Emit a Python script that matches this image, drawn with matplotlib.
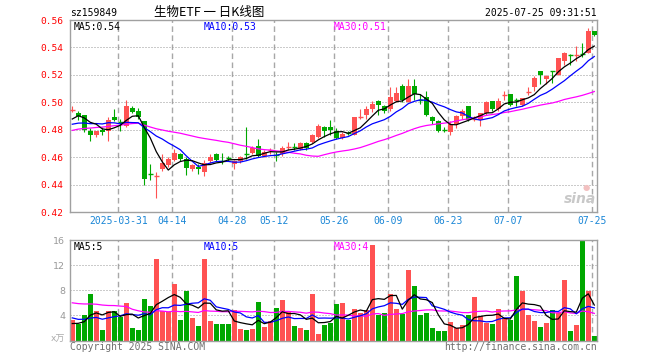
import numpy as np
import matplotlib
matplotlib.use('Agg')
import matplotlib.pyplot as plt

# ---------------- data ----------------
opens = [0.494,0.492,0.491,0.479,0.476,0.480,0.479,0.489,0.486,0.483,
         0.496,0.494,0.486,0.448,0.446,0.451,0.454,0.458,0.462,0.459,
         0.451,0.453,0.449,0.457,0.462,0.458,0.460,0.455,0.457,0.463,
         0.463,0.468,0.461,0.465,0.462,0.462,0.467,0.468,0.466,0.470,
         0.471,0.475,0.482,0.482,0.479,0.474,0.478,0.476,0.489,0.491,
         0.495,0.501,0.497,0.495,0.501,0.512,0.500,0.512,0.502,0.504,
         0.489,0.486,0.480,0.478,0.484,0.490,0.497,0.487,0.487,0.492,
         0.501,0.495,0.505,0.506,0.502,0.498,0.507,0.511,0.523,0.517,
         0.523,0.520,0.530,0.535,0.534,0.536,0.536,0.552]
highs = [0.497,0.494,0.491,0.481,0.479,0.482,0.489,0.495,0.488,0.502,
         0.497,0.496,0.486,0.455,0.449,0.462,0.460,0.466,0.463,0.460,
         0.455,0.455,0.458,0.462,0.463,0.463,0.461,0.458,0.461,0.482,
         0.468,0.473,0.465,0.467,0.464,0.468,0.471,0.470,0.471,0.471,
         0.477,0.484,0.483,0.487,0.481,0.478,0.479,0.489,0.495,0.497,
         0.501,0.502,0.498,0.511,0.511,0.513,0.517,0.517,0.506,0.508,
         0.490,0.487,0.482,0.486,0.491,0.495,0.497,0.490,0.492,0.501,
         0.501,0.503,0.508,0.506,0.503,0.503,0.511,0.519,0.523,0.520,
         0.523,0.532,0.537,0.535,0.541,0.543,0.554,0.552]
lows = [0.493,0.487,0.478,0.472,0.475,0.476,0.472,0.486,0.479,0.482,
        0.492,0.488,0.440,0.443,0.430,0.450,0.453,0.457,0.457,0.447,
        0.450,0.448,0.446,0.456,0.457,0.455,0.457,0.451,0.456,0.459,
        0.462,0.460,0.460,0.462,0.457,0.461,0.465,0.465,0.465,0.465,
        0.470,0.474,0.475,0.476,0.473,0.473,0.476,0.476,0.488,0.488,
        0.493,0.491,0.492,0.494,0.500,0.500,0.500,0.502,0.499,0.490,
        0.484,0.478,0.478,0.476,0.481,0.488,0.486,0.486,0.483,0.491,
        0.494,0.494,0.502,0.497,0.497,0.497,0.505,0.508,0.513,0.513,
        0.514,0.520,0.527,0.527,0.530,0.533,0.536,0.548]
closes = [0.495,0.490,0.480,0.476,0.479,0.478,0.487,0.487,0.485,0.497,
          0.493,0.489,0.444,0.447,0.447,0.456,0.459,0.463,0.459,0.452,
          0.454,0.451,0.456,0.460,0.458,0.457,0.459,0.457,0.460,0.462,
          0.467,0.461,0.464,0.466,0.461,0.467,0.468,0.467,0.470,0.467,
          0.476,0.483,0.479,0.480,0.474,0.477,0.477,0.489,0.490,0.495,
          0.499,0.498,0.494,0.504,0.507,0.502,0.512,0.506,0.501,0.491,
          0.486,0.479,0.479,0.484,0.490,0.494,0.487,0.488,0.492,0.500,
          0.495,0.501,0.506,0.498,0.501,0.503,0.508,0.518,0.520,0.519,
          0.522,0.532,0.536,0.534,0.535,0.535,0.552,0.549]
volumes = [3.2,2.67,4.1,7.36,4.64,1.6,4.64,4.64,3.73,5.97,
           1.97,1.6,6.56,5.44,12.96,4.69,4.53,8.96,3.2,7.84,
           3.57,2.24,12.96,3.04,2.56,2.56,2.56,4.8,1.76,1.6,
           1.76,6.13,2.13,3.04,5.17,6.4,4.64,2.24,1.97,1.6,
           7.36,0.96,2.4,2.77,5.76,5.97,3.2,4.96,4.37,4.8,
           15.2,4.0,4.37,7.36,4.96,4.27,11.2,8.64,4.0,4.37,
           1.97,1.44,1.44,2.93,1.97,2.4,4.0,6.93,3.84,2.77,
           2.56,4.96,3.47,3.31,10.29,7.89,4.0,3.09,2.13,2.77,
           4.8,4.37,9.6,1.44,2.4,15.84,7.89,0.64]
# sessions before the window (only feed the moving averages)
pre_closes = [0.462,0.465,0.468,0.466,0.470,0.472,0.471,0.474,0.476,0.478,
              0.482,0.486,0.488,0.485,0.483,0.487,0.484,0.481,0.483,0.484,
              0.482,0.479,0.481,0.478,0.481,0.478,0.488,0.492,0.486]
pre_volumes = [6.5,5.8,7.2,6.0,5.5,6.8,5.0,6.2,8.0,15.0,
               9.0,12.0,7.0,5.5,6.5,8.0,6.0,5.5,6.5,6.0,
               5.0,4.0,5.5,3.5,4.5,2.5,2.8,2.2,2.8]

tick_idx = [8, 17, 27, 34, 44, 53, 63, 73, 87]
tick_labels = ['2025-03-31', '04-14', '04-28', '05-12', '05-26',
               '06-09', '06-23', '07-07', '07-25']
price_ticks = [0.42, 0.44, 0.46, 0.48, 0.50, 0.52, 0.54, 0.56]
vol_ticks = [4, 8, 12, 16]

code = 'sz159849'
title = '生物ETF 一 日K线图'
stamp = '2025-07-25 09:31:51'

# ---------------- helpers ----------------
W, H = 660, 360
RED = '#ff5252'
GREEN = '#00a800'
GRID = '#a8a8a8'
MONO = 'DejaVu Sans Mono'


def ma(series, n, pre):
    full = np.array(list(pre) + list(series), dtype=float)
    p = len(pre)
    return np.array([full[i - n + 1:i + 1].mean() for i in range(p, len(full))])


def fx(px):
    return px / W


def fy(py):
    return 1 - py / H


n = len(closes)
x = np.arange(n)
o = np.array(opens); c = np.array(closes)
hi = np.array(highs); lo = np.array(lows)
vol = np.array(volumes)
up = c >= o
cols = [RED if u else GREEN for u in up]

fig = plt.figure(figsize=(W / 100, H / 100), dpi=100)
fig.patch.set_facecolor('white')

x0, x1 = 70, 597
ax = fig.add_axes([fx(x0), fy(212), (x1 - x0) / W, (212 - 20) / H])
axv = fig.add_axes([fx(x0), fy(340.5), (x1 - x0) / W, (340.5 - 240) / H])

xlim = (-0.38, 87.45)
for a in (ax, axv):
    a.set_xlim(*xlim)
    for s in a.spines.values():
        s.set_color('#a0a0a0')
        s.set_linewidth(1.0)
    for t in tick_idx:
        a.axvline(t - 0.333, color=GRID, lw=1.0, ls=(0, (4, 2.5)), zorder=0)

ax.set_ylim(0.42, 0.56)
axv.set_ylim(0, 16)

# horizontal dotted grids
for p in price_ticks[1:-1]:
    ax.axhline(p, color='#999999', lw=0.72, ls=(0, (1, 2)), zorder=0)
for v in vol_ticks[:-1]:
    axv.axhline(v, color='#999999', lw=0.72, ls=(0, (1, 2)), zorder=0)

# candles
ax.vlines(x, lo, hi, colors=cols, lw=0.8, zorder=3)
body = np.abs(c - o)
bw = 0.8
for i in range(n):
    if body[i] < 0.0015:
        ax.hlines((o[i] + c[i]) / 2, i - bw / 2, i + bw / 2, colors=cols[i], lw=1.0, zorder=3)
    else:
        ax.bar(i, body[i], bottom=min(o[i], c[i]), width=bw, color=cols[i],
               edgecolor='none', zorder=3)

# moving averages
ma5 = ma(closes, 5, pre_closes)
ma10 = ma(closes, 10, pre_closes)
ma30 = ma(closes, 30, pre_closes)
ax.plot(x, ma30, color='#ff00ff', lw=0.9, zorder=4)
ax.plot(x, ma10, color='#0000ff', lw=0.9, zorder=4)
ax.plot(x, ma5, color='black', lw=0.9, zorder=4)

# volume
axv.bar(x, vol, width=0.83, color=cols, edgecolor='none', zorder=2)
vma5 = ma(volumes, 5, pre_volumes)
vma10 = ma(volumes, 10, pre_volumes)
vma30 = ma(volumes, 30, pre_volumes)
axv.plot(x, vma30, color='#ff00ff', lw=0.9, zorder=4)
axv.plot(x, vma10, color='#0000ff', lw=0.9, zorder=4)
axv.plot(x, vma5, color='black', lw=0.9, zorder=4)

# ticks
ax.set_yticks(price_ticks)
ax.set_yticklabels(['%.2f' % p for p in price_ticks], color='#ff0000',
                   family=MONO, fontsize=6.8)
ax.tick_params(axis='y', length=0, pad=4.5)
ax.set_xticks([t - 0.333 for t in tick_idx])
ax.set_xticklabels(tick_labels, color='#1a86d6', family=MONO, fontsize=7)
ax.tick_params(axis='x', length=0, pad=3)

axv.set_yticks(vol_ticks)
axv.set_yticklabels([str(v) for v in vol_ticks], color='#999999', fontsize=6.8)
axv.tick_params(axis='y', length=0, pad=3.5)
axv.set_xticks([])

# texts
fig.text(fx(70), fy(13), code, family=MONO, fontsize=7, va='center', ha='left')
fig.text(fx(209), fy(12), title, family=['Noto Sans CJK SC', 'DejaVu Sans'],
         fontsize=9, va='center', ha='center')
fig.text(fx(597), fy(13), stamp, family=MONO, fontsize=7, va='center', ha='right')

fig.text(fx(74), fy(26.5), 'MA5:%.2f' % ma5[-1], family=MONO, fontsize=7,
         va='center', color='black')
fig.text(fx(204), fy(26.5), 'MA10:%.2f' % ma10[-1], family=MONO, fontsize=7,
         va='center', color='#0000ff')
fig.text(fx(334), fy(26.5), 'MA30:%.2f' % ma30[-1], family=MONO, fontsize=7,
         va='center', color='#ff00ff')

fig.text(fx(74), fy(246.5), 'MA5:%d' % int(vma5[-1]), family=MONO, fontsize=7,
         va='center', color='black')
fig.text(fx(204), fy(246.5), 'MA10:%d' % int(vma10[-1]), family=MONO, fontsize=7,
         va='center', color='#0000ff')
fig.text(fx(334), fy(246.5), 'MA30:%d' % int(vma30[-1]), family=MONO, fontsize=7,
         va='center', color='#ff00ff')

fig.text(fx(65), fy(339), 'x万', family=['DejaVu Sans', 'Noto Sans CJK SC'],
         fontsize=6.5, va='center', ha='right', color='#aaaaaa')
fig.text(fx(70), fy(347), 'Copyright 2025 SINA.COM', family=MONO, fontsize=7,
         va='center', ha='left', color='#707070')
fig.text(fx(597), fy(347), 'http://finance.sina.com.cn', family=MONO, fontsize=7,
         va='center', ha='right', color='#707070')

# sina watermark
fig.text(fx(580), fy(199), 'sina', fontsize=10, fontweight='bold', style='italic',
         color='#c8c8c8', ha='center', va='center')
fig.text(fx(586), fy(187), '●', fontsize=6, color='#f2c0c0', ha='center', va='center')

fig.savefig('out.png', dpi=100, facecolor='white')
